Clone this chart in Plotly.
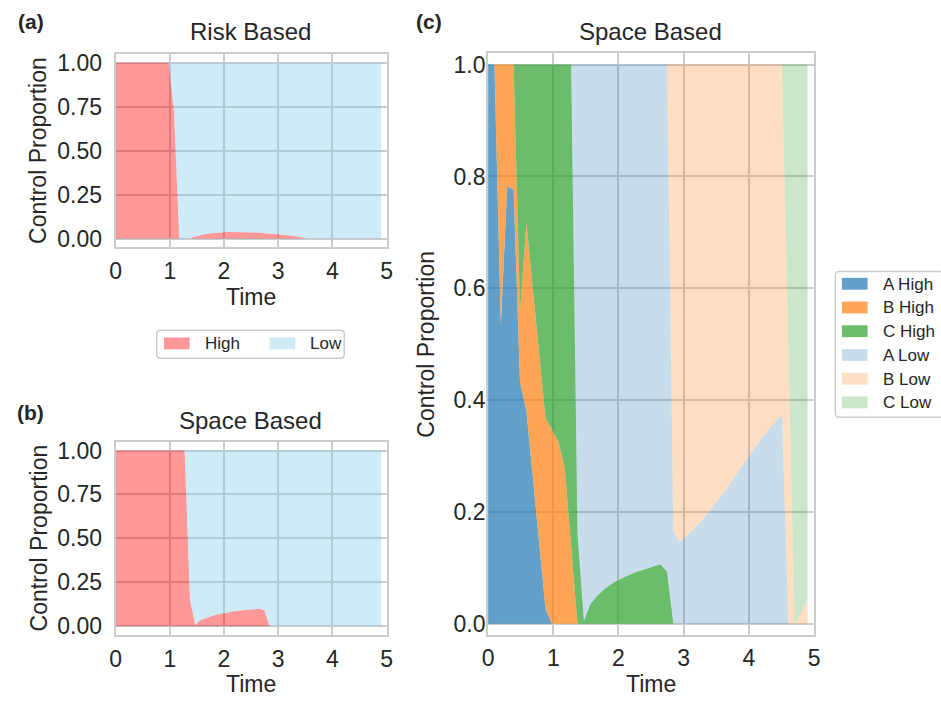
import plotly.graph_objects as go

# ---------------- data ----------------
TIME = [0.0, 0.098, 0.196, 0.294, 0.392, 0.49, 0.588, 0.686, 0.784, 0.882,
        0.98, 1.078, 1.176, 1.274, 1.372, 1.47, 1.568, 1.666, 1.764, 1.862,
        1.96, 2.058, 2.156, 2.254, 2.352, 2.45, 2.548, 2.646, 2.744, 2.842,
        2.94, 3.038, 3.136, 3.234, 3.332, 3.43, 3.528, 3.626, 3.724, 3.822,
        3.92, 4.018, 4.116, 4.214, 4.312, 4.41, 4.508, 4.606, 4.704, 4.802, 4.9]

# (a) Risk based
RISK_HIGH = [1.0, 1.0, 1.0, 1.0, 1.0, 1.0, 1.0, 1.0, 1.0, 1.0,
             1.0, 0.72, 0.0, 0.0, 0.0, 0.012, 0.02, 0.026, 0.031, 0.034,
             0.036, 0.037, 0.038, 0.038, 0.037, 0.036, 0.035, 0.033, 0.031, 0.029,
             0.027, 0.024, 0.021, 0.018, 0.014, 0.008, 0.0, 0.0, 0.0, 0.0,
             0.0, 0.0, 0.0, 0.0, 0.0, 0.0, 0.0, 0.0, 0.0, 0.0, 0.0]
RISK_LOW = [0.0, 0.0, 0.0, 0.0, 0.0, 0.0, 0.0, 0.0, 0.0, 0.0,
            0.0, 0.28, 1.0, 1.0, 1.0, 0.988, 0.98, 0.974, 0.969, 0.966,
            0.964, 0.963, 0.962, 0.962, 0.963, 0.964, 0.965, 0.967, 0.969, 0.971,
            0.973, 0.976, 0.979, 0.982, 0.986, 0.992, 1.0, 1.0, 1.0, 1.0,
            1.0, 1.0, 1.0, 1.0, 1.0, 1.0, 1.0, 1.0, 1.0, 1.0, 1.0]

# (b) Space based, aggregated
SPACE_HIGH = [1.0, 1.0, 1.0, 1.0, 1.0, 1.0, 1.0, 1.0, 1.0, 1.0,
              1.0, 1.0, 1.0, 1.0, 0.156, 0.005, 0.035, 0.047, 0.057, 0.065,
              0.072, 0.078, 0.083, 0.087, 0.091, 0.094, 0.097, 0.099, 0.09, 0.0,
              0.0, 0.0, 0.0, 0.0, 0.0, 0.0, 0.0, 0.0, 0.0, 0.0,
              0.0, 0.0, 0.0, 0.0, 0.0, 0.0, 0.0, 0.0, 0.0, 0.0, 0.0]
SPACE_LOW = [0.0, 0.0, 0.0, 0.0, 0.0, 0.0, 0.0, 0.0, 0.0, 0.0,
             0.0, 0.0, 0.0, 0.0, 0.844, 0.995, 0.965, 0.953, 0.943, 0.935,
             0.928, 0.922, 0.917, 0.913, 0.909, 0.906, 0.903, 0.901, 0.91, 1.0,
             1.0, 1.0, 1.0, 1.0, 1.0, 1.0, 1.0, 1.0, 1.0, 1.0,
             1.0, 1.0, 1.0, 1.0, 1.0, 1.0, 1.0, 1.0, 1.0, 1.0, 1.0]

# (c) Space based, per region
A_HIGH = [1.0, 1.0, 0.534, 0.783, 0.776, 0.432, 0.381, 0.262, 0.144, 0.026,
          0.0, 0.0, 0.0, 0.0, 0.0, 0.0, 0.0, 0.0, 0.0, 0.0,
          0.0, 0.0, 0.0, 0.0, 0.0, 0.0, 0.0, 0.0, 0.0, 0.0,
          0.0, 0.0, 0.0, 0.0, 0.0, 0.0, 0.0, 0.0, 0.0, 0.0,
          0.0, 0.0, 0.0, 0.0, 0.0, 0.0, 0.0, 0.0, 0.0, 0.0, 0.0]
B_HIGH = [0.0, 0.0, 0.466, 0.217, 0.224, 0.128, 0.336, 0.338, 0.339, 0.341,
          0.347, 0.326, 0.279, 0.14, 0.0, 0.0, 0.0, 0.0, 0.0, 0.0,
          0.0, 0.0, 0.0, 0.0, 0.0, 0.0, 0.0, 0.0, 0.0, 0.0,
          0.0, 0.0, 0.0, 0.0, 0.0, 0.0, 0.0, 0.0, 0.0, 0.0,
          0.0, 0.0, 0.0, 0.0, 0.0, 0.0, 0.0, 0.0, 0.0, 0.0, 0.0]
C_HIGH = [0.0, 0.0, 0.0, 0.0, 0.0, 0.44, 0.283, 0.40, 0.517, 0.633,
          0.653, 0.674, 0.721, 0.86, 0.16, 0.005, 0.035, 0.049, 0.06, 0.069,
          0.076, 0.082, 0.087, 0.092, 0.096, 0.1, 0.103, 0.106, 0.093, 0.0,
          0.0, 0.0, 0.0, 0.0, 0.0, 0.0, 0.0, 0.0, 0.0, 0.0,
          0.0, 0.0, 0.0, 0.0, 0.0, 0.0, 0.0, 0.0, 0.0, 0.0, 0.0]
A_LOW = [0.0, 0.0, 0.0, 0.0, 0.0, 0.0, 0.0, 0.0, 0.0, 0.0,
         0.0, 0.0, 0.0, 0.0, 0.84, 0.995, 0.965, 0.951, 0.94, 0.931,
         0.924, 0.918, 0.913, 0.908, 0.904, 0.9, 0.897, 0.894, 0.907, 0.165,
         0.146, 0.156, 0.167, 0.179, 0.192, 0.206, 0.221, 0.236, 0.253, 0.27,
         0.287, 0.303, 0.319, 0.334, 0.348, 0.362, 0.373, 0.0, 0.0, 0.0, 0.0]
B_LOW = [0.0, 0.0, 0.0, 0.0, 0.0, 0.0, 0.0, 0.0, 0.0, 0.0,
         0.0, 0.0, 0.0, 0.0, 0.0, 0.0, 0.0, 0.0, 0.0, 0.0,
         0.0, 0.0, 0.0, 0.0, 0.0, 0.0, 0.0, 0.0, 0.0, 0.835,
         0.854, 0.844, 0.833, 0.821, 0.808, 0.794, 0.779, 0.764, 0.747, 0.73,
         0.713, 0.697, 0.681, 0.666, 0.652, 0.638, 0.627, 0.5, 0.0, 0.02, 0.045]
C_LOW = [0.0, 0.0, 0.0, 0.0, 0.0, 0.0, 0.0, 0.0, 0.0, 0.0,
         0.0, 0.0, 0.0, 0.0, 0.0, 0.0, 0.0, 0.0, 0.0, 0.0,
         0.0, 0.0, 0.0, 0.0, 0.0, 0.0, 0.0, 0.0, 0.0, 0.0,
         0.0, 0.0, 0.0, 0.0, 0.0, 0.0, 0.0, 0.0, 0.0, 0.0,
         0.0, 0.0, 0.0, 0.0, 0.0, 0.0, 0.0, 0.5, 1.0, 0.98, 0.955]

AB_NAMES = ["High", "Low"]
C_NAMES = ["A High", "B High", "C High", "A Low", "B Low", "C Low"]
Y_TICKS_AB = [0.0, 0.25, 0.5, 0.75, 1.0]
Y_TICKS_C = [0.0, 0.2, 0.4, 0.6, 0.8, 1.0]
X_TICKS = [0, 1, 2, 3, 4, 5]

# ---------------- styling ----------------
W, H = 941, 702
FONT = "Liberation Sans, Arial, Helvetica, sans-serif"
TXT = "#262626"
GRID = "#cccccc"
AB_COLORS = ["rgba(255,0,0,0.4)", "rgba(135,206,235,0.4)"]
C_COLORS = ["rgba(31,119,180,0.7)", "rgba(255,127,14,0.7)", "rgba(44,160,44,0.7)",
            "rgba(31,119,180,0.25)", "rgba(255,127,14,0.25)", "rgba(44,160,44,0.25)"]
TICK_SIZE = 23
LABEL_SIZE = 23
TITLE_SIZE = 24
LEG_SIZE = 17


def px(x):
    return x / W


def py(y):
    return 1 - y / H


fig = go.Figure()


def add_stack(series, names, colors, xa, ya, group):
    for s, n, c in zip(series, names, colors):
        fig.add_trace(go.Scatter(
            x=TIME, y=s, name=n, stackgroup=group, mode="lines",
            line=dict(width=0, color=c), fillcolor=c,
            xaxis=xa, yaxis=ya, showlegend=False))


add_stack([RISK_HIGH, RISK_LOW], AB_NAMES, AB_COLORS, "x", "y", "a")
add_stack([SPACE_HIGH, SPACE_LOW], AB_NAMES, AB_COLORS, "x2", "y2", "b")
add_stack([A_HIGH, B_HIGH, C_HIGH, A_LOW, B_LOW, C_LOW], C_NAMES, C_COLORS, "x3", "y3", "c")

axis_common = dict(showgrid=True, gridcolor=GRID, gridwidth=1.5,
                   showline=True, mirror=True, linecolor=GRID, linewidth=2,
                   zeroline=False, ticks="outside",
                   tickcolor="rgba(0,0,0,0)",
                   tickfont=dict(family=FONT, size=TICK_SIZE, color=TXT))

ab_x = [px(111), px(385.5)]
c_x = [px(488.3), px(818.5)]

fig.update_layout(
    width=W, height=H, autosize=False,
    margin=dict(l=0, r=0, t=0, b=0),
    paper_bgcolor="white", plot_bgcolor="white",
    showlegend=False,
    xaxis=dict(domain=ab_x, range=[0, 5], tickvals=X_TICKS, anchor="y", ticklen=2, **axis_common),
    yaxis=dict(domain=[py(246.2), py(50.4)], range=[-0.05, 1.05], tickvals=Y_TICKS_AB,
               tickformat=".2f", anchor="x", ticklen=7, **axis_common),
    xaxis2=dict(domain=ab_x, range=[0, 5], tickvals=X_TICKS, anchor="y2", ticklen=2, **axis_common),
    yaxis2=dict(domain=[py(638.2), py(442.8)], range=[-0.05, 1.05], tickvals=Y_TICKS_AB,
                tickformat=".2f", anchor="x2", ticklen=7, **axis_common),
    xaxis3=dict(domain=c_x, range=[0, 5], tickvals=X_TICKS, anchor="y3", ticklen=1, **axis_common),
    yaxis3=dict(domain=[py(638.3), py(50)], range=[-0.02, 1.02], tickvals=Y_TICKS_C,
                tickformat=".1f", anchor="x3", ticklen=0, ticklabelstandoff=-4, **axis_common),
)

ann = []


def text(x, y, s, size, bold=False, angle=0, xanchor="center"):
    ann.append(dict(x=px(x), y=py(y), xref="paper", yref="paper", text=(f"<b>{s}</b>" if bold else s),
                    showarrow=False, xanchor=xanchor, yanchor="middle", textangle=angle,
                    font=dict(family=FONT, size=size, color=TXT)))


# panel labels
text(25, 18, "(a)", 21, bold=True)
text(25, 413, "(b)", 21, bold=True)
text(428, 18, "(c)", 21, bold=True)
# titles
text(248, 28, "Risk Based", TITLE_SIZE)
text(248, 421, "Space Based", TITLE_SIZE)
text(653, 28, "Space Based", TITLE_SIZE)
# axis labels
text(33, 148, "Control Proportion", LABEL_SIZE, angle=-90)
text(33, 540, "Control Proportion", LABEL_SIZE, angle=-90)
text(425, 344, "Control Proportion", LABEL_SIZE, angle=-90)
text(248, 296, "Time", LABEL_SIZE)
text(248, 688, "Time", LABEL_SIZE)
text(653, 688, "Time", LABEL_SIZE)

shapes = []


def rounded_box(x0, y0, x1, y1, r=4):
    rx, ry = r / W, r / H
    X0, X1 = px(x0), px(x1)
    Y0, Y1 = py(y0), py(y1)  # Y0 top (larger), Y1 bottom
    path = (f"M{X0+rx},{Y0} L{X1-rx},{Y0} Q{X1},{Y0} {X1},{Y0-ry} "
            f"L{X1},{Y1+ry} Q{X1},{Y1} {X1-rx},{Y1} L{X0+rx},{Y1} "
            f"Q{X0},{Y1} {X0},{Y1+ry} L{X0},{Y0-ry} Q{X0},{Y0} {X0+rx},{Y0} Z")
    shapes.append(dict(type="path", path=path, xref="paper", yref="paper",
                       fillcolor="rgba(255,255,255,0.8)", line=dict(color="#cccccc", width=1.5)))


def patch(x0, y0, x1, y1, color):
    shapes.append(dict(type="rect", xref="paper", yref="paper", x0=px(x0), x1=px(x1),
                       y0=py(y1), y1=py(y0), fillcolor=color, line=dict(width=0)))


# legend for (a)/(b)
rounded_box(152.7, 330, 342.7, 358.3)
patch(160, 337.3, 186, 349.3, AB_COLORS[0])
patch(267, 337.3, 293, 349.3, AB_COLORS[1])
text(199.3, 343.5, AB_NAMES[0], LEG_SIZE, xanchor="left")
text(305.7, 343.5, AB_NAMES[1], LEG_SIZE, xanchor="left")

# legend for (c)
rounded_box(840, 270.7, 950, 418)
row_y = [283, 307, 331, 355, 379, 403]
for name, col, yc in zip(C_NAMES, C_COLORS, row_y):
    patch(846.7, yc - 6, 872.7, yc + 6, col)
    text(886, yc + 0.5, name, LEG_SIZE, xanchor="left")

fig.update_layout(annotations=ann, shapes=shapes)
fig.write_html("out.html")
